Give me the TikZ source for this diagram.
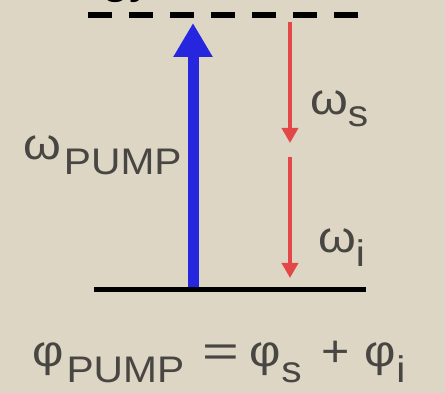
\documentclass[tikz,border=0pt]{standalone}
\usepackage{fontspec}
\setmainfont[FakeStretch=1.1]{Liberation Sans}
\usepackage{xcolor}
\definecolor{bgbeige}{RGB}{222,214,196}
\definecolor{pumpblue}{RGB}{38,38,222}
\definecolor{convred}{RGB}{226,72,72}
\definecolor{labelgray}{RGB}{72,70,66}
\usepackage{tikz}
\usetikzlibrary{arrows.meta}
\newcommand{\lowsub}[2][15pt]{\raisebox{-#1}{\fontsize{37}{40}\selectfont #2}}

\begin{document}
\begin{tikzpicture}[x=1pt, y=-1pt,
  level/.style={line width=5pt, black},
  virtual/.style={line width=6pt, black, dash pattern=on 24pt off 17pt},
  pumparrow/.style={line width=11pt, pumpblue, -{Triangle[width=37pt,length=34pt]}},
  photonarrow/.style={line width=3.5pt, convred, -{Triangle[width=16pt,length=15pt]}},
  greek/.style={inner sep=0pt, anchor=base west, text=labelgray, font=\fontsize{44}{48}\selectfont}]
  \useasboundingbox (0,0) rectangle (445,393);
  \fill[bgbeige] (0,0) rectangle (445,393);
  % axis title, cut off by the top edge
  \node[greek, text=black] (energy) at (0,-6) {Energy};
  % levels
  \coordinate (virtL) at (88,15);
  \coordinate (virtR) at (360,15);
  \coordinate (groundL) at (94,289);
  \coordinate (groundR) at (366,289);
  % pump photon
  \coordinate (pumpbot) at (193,289);
  \coordinate (pumptop) at (193,23);
  \draw[pumparrow] (pumpbot) -- (pumptop);
  % signal and idler photons
  \coordinate (sigtop) at (290,22);
  \coordinate (sigbot) at (290,143);
  \coordinate (idltop) at (290,157);
  \coordinate (idlbot) at (290,278);
  \draw[photonarrow] (sigtop) -- (sigbot);
  \draw[photonarrow] (idltop) -- (idlbot);
  \draw[virtual] (virtL) -- (virtR);
  \draw[level] (groundL) -- (groundR);
  % labels
  \node[greek] (wpump) at (23,160) {ω\hspace{3pt}\lowsub{PUMP}};
  \node[greek] (wsig) at (310,115) {ω\lowsub[12pt]{s}};
  \node[greek] (widl) at (318,253) {ω\lowsub[14pt]{i}};
  \node[greek] (phase) at (32,366) {φ\hspace{3pt}\lowsub[17pt]{PUMP}\hspace{18pt}\scalebox{1.3}[1]{=}\hspace{11pt}φ\lowsub[17pt]{s}\hspace{20pt}+\hspace{15pt}φ\lowsub[17pt]{i}};
\end{tikzpicture}
\end{document}
